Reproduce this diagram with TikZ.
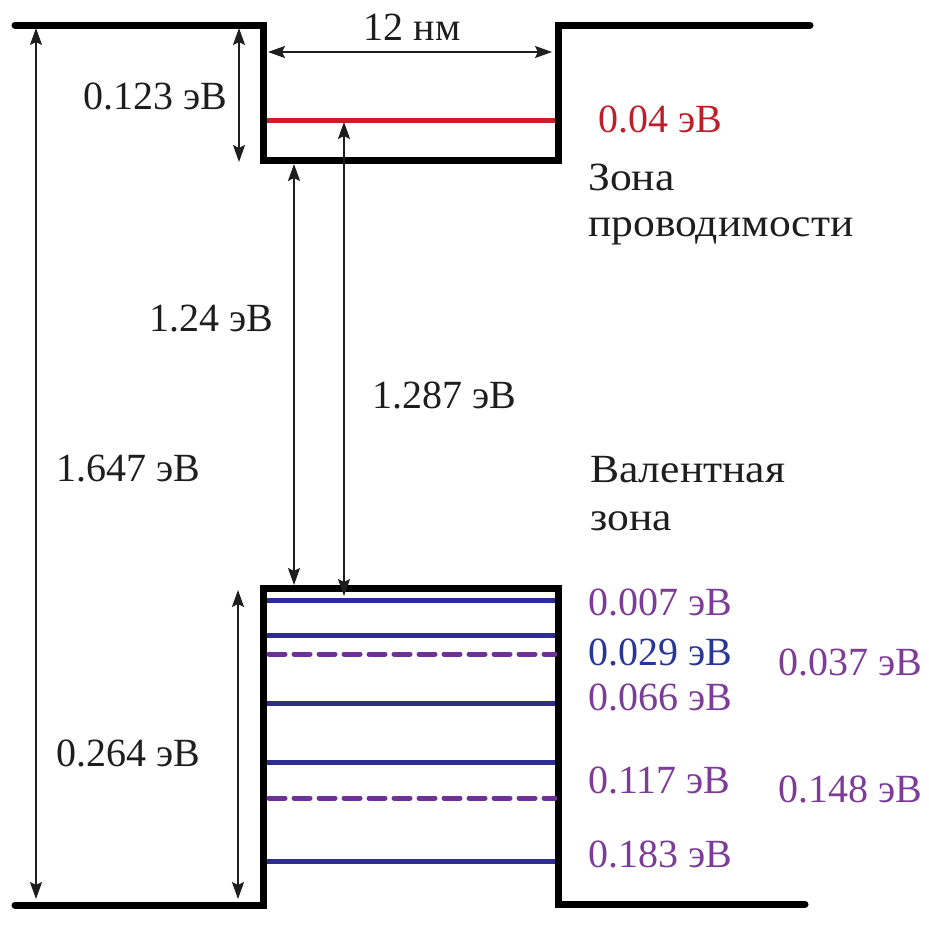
\documentclass[tikz,border=0pt]{standalone}
\usepackage{fontspec}
\setmainfont{Liberation Serif}
\usetikzlibrary{arrows.meta}
\definecolor{wellblack}{RGB}{0,0,0}
\definecolor{lvlred}{RGB}{205,30,40}
\definecolor{txtred}{RGB}{190,30,40}
\definecolor{lvlblue}{RGB}{45,45,145}
\definecolor{txtblue}{RGB}{40,55,150}
\definecolor{lvlpurple}{RGB}{110,50,150}
\definecolor{txtpurple}{RGB}{125,60,150}
\definecolor{txtblack}{RGB}{30,30,30}
\tikzset{
  wall/.style={line width=7pt, draw=wellblack, line join=miter, line cap=round},
  lvlsolid/.style={line width=5pt, draw=lvlblue},
  lvldash/.style={line width=5pt, draw=lvlpurple, dash pattern=on 16pt off 9pt, line cap=round},
  lvlcond/.style={line width=5pt, draw=lvlred},
  dim/.style={line width=2.2pt, draw=txtblack, {Stealth[length=17pt,width=12pt,inset=3pt]}-{Stealth[length=17pt,width=12pt,inset=3pt]}},
  lbl/.style={inner sep=0pt, font=\fontsize{40}{48}\selectfont, text=txtblack},
}
\newcommand{\widecyr}[1]{\scalebox{1.09}[1]{#1}}
\begin{document}
\begin{tikzpicture}[x=1pt,y=-1pt]
\useasboundingbox (0,0) rectangle (929,926);
% well outline (conduction band)
\coordinate (cb1) at (15,25);
\coordinate (cb2) at (263,25);
\coordinate (cb3) at (263,160);
\coordinate (cb4) at (558,160);
\coordinate (cb5) at (558,25);
\coordinate (cb6) at (810,25);
\draw[wall] (cb1) -- (cb2) -- (cb3) -- (cb4) -- (cb5) -- (cb6);
% valence band outline
\coordinate (vb1) at (15,905);
\coordinate (vb2) at (263,905);
\coordinate (vb3) at (263,588);
\coordinate (vb4) at (558,588);
\coordinate (vb5) at (558,904);
\coordinate (vb6) at (805,904);
\draw[wall] (vb1) -- (vb2) -- (vb3) -- (vb4) -- (vb5) -- (vb6);
% conduction level
\coordinate (rL) at (267,120);
\coordinate (rR) at (555,120);
\draw[lvlcond] (rL) -- (rR);
% valence levels
\foreach \yy/\nm in {600/a,635/b,703/c,762/d,861/e}{
  \coordinate (l\nm) at (267,\yy);
  \coordinate (r\nm) at (555,\yy);
  \draw[lvlsolid] (l\nm) -- (r\nm);
}
\foreach \yy/\nm in {654/f,798/g}{
  \coordinate (l\nm) at (269,\yy);
  \coordinate (r\nm) at (555,\yy);
  \draw[lvldash] (l\nm) -- (r\nm);
}
% dimension arrows
\coordinate (d1a) at (36,28);  \coordinate (d1b) at (36,899);
\coordinate (d2a) at (239,28); \coordinate (d2b) at (239,162);
\coordinate (d3a) at (268,52); \coordinate (d3b) at (552,52);
\coordinate (d4a) at (294,164); \coordinate (d4b) at (294,585);
\coordinate (d5a) at (344,122); \coordinate (d5b) at (344,596);
\coordinate (d6a) at (238,590); \coordinate (d6b) at (238,899);
\draw[dim] (d1a) -- (d1b);
\draw[dim] (d2a) -- (d2b);
\draw[dim] (d3a) -- (d3b);
\draw[dim] (d4a) -- (d4b);
\draw[dim] (d5a) -- (d5b);
\draw[dim] (d6a) -- (d6b);
% labels
\node[lbl, anchor=base] (t12) at (412,40) {12 нм};
\node[lbl, anchor=base] (t0123) at (155,109) {0.123 эВ};
\node[lbl, anchor=base west, text=txtred] (t004) at (598,132) {0.04 эВ};
\node[lbl, anchor=base west] (tzona) at (588,190) {\widecyr{Зона}};
\node[lbl, anchor=base west] (tprov) at (588,236) {\widecyr{проводимости}};
\node[lbl, anchor=base] (t124) at (211,331) {1.24 эВ};
\node[lbl, anchor=base] (t1287) at (444,408) {1.287 эВ};
\node[lbl, anchor=base] (t1647) at (128,481) {1.647 эВ};
\node[lbl, anchor=base west] (tval) at (590,482) {\widecyr{Валентная}};
\node[lbl, anchor=base west] (tzona2) at (590,530) {\widecyr{зона}};
\node[lbl, anchor=base] (t0264) at (128,766) {0.264 эВ};
\node[lbl, anchor=base west, text=txtpurple] (t0007) at (588,615) {0.007 эВ};
\node[lbl, anchor=base west, text=txtblue] (t0029) at (588,665) {0.029 эВ};
\node[lbl, anchor=base west, text=txtpurple] (t0066) at (588,710) {0.066 эВ};
\node[lbl, anchor=base west, text=txtpurple] (t0117) at (588,793) {0.117 эВ};
\node[lbl, anchor=base west, text=txtpurple] (t0183) at (588,867) {0.183 эВ};
\node[lbl, anchor=base west, text=txtpurple] (t0037) at (778,675) {0.037 эВ};
\node[lbl, anchor=base west, text=txtpurple] (t0148) at (778,802) {0.148 эВ};
\end{tikzpicture}
\end{document}
